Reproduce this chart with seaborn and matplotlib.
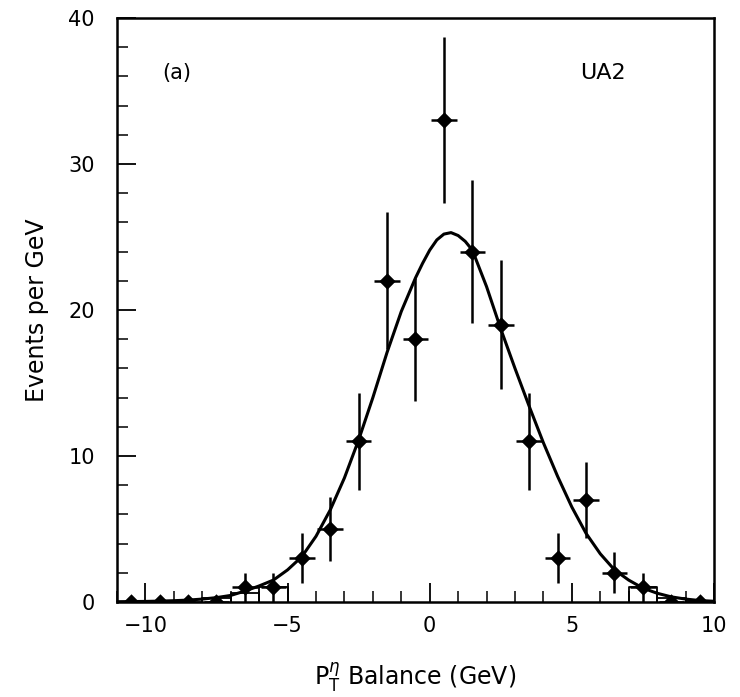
import numpy as np
import pandas as pd
import matplotlib
matplotlib.use("Agg")
import matplotlib.pyplot as plt
import seaborn as sns
from matplotlib.ticker import MultipleLocator

# ---- data ----
bin_centers = [-10.5, -9.5, -8.5, -7.5, -6.5, -5.5, -4.5, -3.5, -2.5, -1.5, -0.5,
               0.5, 1.5, 2.5, 3.5, 4.5, 5.5, 6.5, 7.5, 8.5, 9.5]
events = [0, 0, 0, 0, 1, 1, 3, 5, 11, 22, 18,
          33, 24, 19, 11, 3, 7, 2, 1, 0, 0]
events_err = [0, 0, 0, 0, 1.0, 1.0, 1.7, 2.2, 3.3, 4.7, 4.2,
              5.7, 4.9, 4.4, 3.3, 1.7, 2.6, 1.4, 1.0, 0, 0]
x_halfwidth = [0.45] * len(bin_centers)

# fitted curve
curve_x = [-11, -10.5, -10, -9.5, -9, -8.5, -8, -7.5, -7, -6.5, -6, -5.5, -5, -4.5,
           -4, -3.5, -3, -2.5, -2, -1.5, -1, -0.5, -0.25, 0, 0.25, 0.5, 0.75, 1.0,
           1.25, 1.5, 2, 2.5, 3, 3.5, 4, 4.5, 5, 5.5, 6, 6.5, 7, 7.5, 8, 8.5, 9,
           9.5, 10]
curve_y = [0.02, 0.03, 0.04, 0.06, 0.09, 0.13, 0.2, 0.3, 0.45, 0.75, 1.1, 1.5, 2.2,
           3.1, 4.5, 6.3, 8.5, 11.1, 14.0, 17.1, 19.9, 22.2, 23.2, 24.1, 24.8, 25.2,
           25.3, 25.1, 24.7, 24.1, 21.6, 18.7, 16.0, 13.4, 10.9, 8.6, 6.5, 4.7, 3.3,
           2.2, 1.5, 0.95, 0.6, 0.35, 0.2, 0.1, 0.05]

# small tail histogram at the bottom
hist_edges = [-8, -7, -6, -5, 7, 8, 9, 10]
hist_vals = [0.25, 0.6, 1.0, 0.0, 1.0, 0.3, 0.1]

df_pts = pd.DataFrame({"x": bin_centers, "y": events})
df_curve = pd.DataFrame({"x": curve_x, "y": curve_y})

sns.set_theme(style="white")
plt.rcParams["font.family"] = ["DejaVu Sans"]
plt.rcParams["text.color"] = "black"
plt.rcParams["axes.labelcolor"] = "black"

fig = plt.figure(figsize=(7.40, 6.97), dpi=100)
ax = fig.add_axes([117 / 740, 1 - 602 / 697, (714 - 117) / 740, (602 - 18) / 697])

# histogram outline
for i, v in enumerate(hist_vals):
    if v > 0:
        ax.plot([hist_edges[i], hist_edges[i], hist_edges[i + 1], hist_edges[i + 1]],
                [0, v, v, 0], color="black", lw=1.3, zorder=2)

sns.lineplot(data=df_curve, x="x", y="y", ax=ax, color="black", lw=2.2,
             sort=False, zorder=3)
ax.errorbar(bin_centers, events, yerr=events_err, xerr=x_halfwidth, fmt="none",
            ecolor="black", elinewidth=1.8, capsize=0, zorder=4)
sns.scatterplot(data=df_pts, x="x", y="y", ax=ax, marker="D", s=70, color="black",
                edgecolor="black", linewidth=0, zorder=5)

ax.set_xlim(-11, 10)
ax.set_ylim(0, 40)
ax.set_xticks([-10, -5, 0, 5, 10])
ax.set_yticks([0, 10, 20, 30, 40])
ax.xaxis.set_minor_locator(MultipleLocator(1))
ax.yaxis.set_minor_locator(MultipleLocator(2))
ax.tick_params(axis="both", which="major", direction="in", length=14, width=1.3,
               labelsize=15, colors="black")
ax.tick_params(axis="both", which="minor", direction="in", length=8, width=1.3)
ax.tick_params(axis="x", which="both", bottom=True, top=False, pad=10)
ax.tick_params(axis="y", which="both", left=True, right=False, pad=16)
for s in ax.spines.values():
    s.set_color("black")
    s.set_linewidth(1.8)

ax.set_xticklabels(["\u221210", "\u22125", "0", "5", "10"])
ax.set_xlabel(r"$\mathrm{P}_\mathrm{T}^{\eta}$ Balance (GeV)", fontsize=17,
              labelpad=18, color="black")
ax.set_ylabel("Events per GeV", fontsize=17, labelpad=14, color="black")

ax.text(-9.4, 36.2, "(a)", fontsize=15, ha="left", va="center", color="black")
ax.text(5.3, 36.2, "UA2", fontsize=16, ha="left", va="center", color="black")

fig.savefig("out.png", dpi=100)
